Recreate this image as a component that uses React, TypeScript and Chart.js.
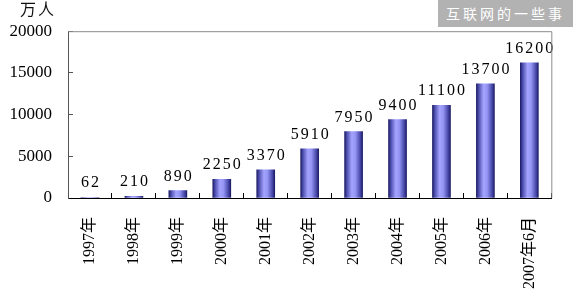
import React, { useEffect, useRef } from "react";
import { Chart, registerables } from "chart.js";
Chart.register(...registerables);

const categories = ["1997年", "1998年", "1999年", "2000年", "2001年", "2002年", "2003年", "2004年", "2005年", "2006年", "2007年6月"];
const users = [62, 210, 890, 2250, 3370, 5910, 7950, 9400, 11100, 13700, 16200];
const yMax = 20000;
const yStep = 5000;
const yUnit = "万人";
const watermark = "互联网的一些事";

const SERIF = "'Liberation Serif', 'Times New Roman', 'DejaVu Serif', serif";

export default function App() {
  const ref = useRef<HTMLCanvasElement>(null);
  useEffect(() => {
    document.body.style.margin = "0";
    const canvas = ref.current!;

    const barFill = (ctx: any) => {
      const chart = ctx.chart;
      const xs = chart.scales && chart.scales.x;
      if (!xs || ctx.dataIndex === undefined) return "#6666cc";
      const cx = xs.getPixelForValue(ctx.dataIndex);
      if (!Number.isFinite(cx)) return "#6666cc";
      const half = 9;
      const g = chart.ctx.createLinearGradient(cx - half, 0, cx + half, 0);
      g.addColorStop(0, "#1c1c66");
      g.addColorStop(0.12, "#4a4aaa");
      g.addColorStop(0.4, "#a4a4ff");
      g.addColorStop(0.6, "#9494f4");
      g.addColorStop(0.88, "#4444a4");
      g.addColorStop(1, "#1c1c66");
      return g;
    };

    const valueLabels = {
      id: "valueLabels",
      afterDatasetsDraw(chart: any) {
        const c = chart.ctx;
        const meta = chart.getDatasetMeta(0);
        c.save();
        c.font = "16px " + SERIF;
        c.fillStyle = "#000";
        c.textAlign = "center";
        c.textBaseline = "alphabetic";
        (c as any).letterSpacing = "2px";
        meta.data.forEach((bar: any, i: number) => {
          c.fillText(String(users[i]), bar.x + 1, bar.y - 10);
        });
        c.restore();
      },
    };

    const frame = {
      id: "frame",
      afterDraw(chart: any) {
        const c = chart.ctx;
        const a = chart.chartArea;
        c.save();
        c.strokeStyle = "#8c8c8c";
        c.lineWidth = 1;
        c.beginPath();
        c.moveTo(a.left, a.top + 0.5);
        c.lineTo(a.right + 0.5, a.top + 0.5);
        c.lineTo(a.right + 0.5, a.bottom);
        c.stroke();
        c.restore();
      },
    };

    const chart = new Chart(canvas, {
      type: "bar",
      data: {
        labels: categories,
        datasets: [
          {
            data: users,
            backgroundColor: barFill,
            borderWidth: 0,
            barThickness: 18,
          },
        ],
      },
      options: {
        responsive: false,
        animation: false,
        layout: { padding: { top: 29, right: 10, left: 0, bottom: 0 } },
        plugins: { legend: { display: false }, tooltip: { enabled: false } },
        scales: {
          x: {
            afterFit: (s: any) => {
              s.height = 102;
            },
            grid: { drawOnChartArea: false, drawTicks: true, tickLength: -5, color: "#000", offset: true },
            border: { color: "#000", width: 1 },
            ticks: {
              autoSkip: false,
              maxRotation: 90,
              minRotation: 90,
              padding: 24,
              color: "#000",
              font: { family: SERIF + ", 'Noto Sans CJK SC'", size: 16 },
            },
          },
          y: {
            min: 0,
            max: yMax,
            afterFit: (s: any) => {
              s.width = 68;
            },
            grid: { drawOnChartArea: false, drawTicks: true, tickLength: -5, color: "#555" },
            border: { color: "#555", width: 1 },
            ticks: {
              stepSize: yStep,
              padding: 21,
              color: "#000",
              font: { family: SERIF, size: 17 },
              callback: (v: any) => String(v),
            },
          },
        },
      },
      plugins: [valueLabels, frame],
    } as any);
    return () => chart.destroy();
  }, []);

  return (
    <div style={{ position: "relative", width: 573, height: 300, background: "#fff" }}>
      <canvas ref={ref} width={573} height={300} style={{ position: "absolute", left: 0, top: 0 }} />
      <div
        style={{
          position: "absolute",
          left: 20,
          top: -2,
          fontFamily: '"Noto Sans CJK SC", sans-serif',
          fontSize: 16,
          letterSpacing: 2,
          color: "#111",
          lineHeight: "20px",
        }}
      >
        {yUnit}
      </div>
      <div
        style={{
          position: "absolute",
          left: 438,
          top: 0,
          width: 135,
          height: 27,
          background: "#b2b2b2",
          color: "#fff",
          fontFamily: '"Noto Sans CJK SC", sans-serif',
          fontSize: 14,
          letterSpacing: 3,
          lineHeight: "27px",
          textAlign: "center",
        }}
      >
        {watermark}
      </div>
    </div>
  );
}
